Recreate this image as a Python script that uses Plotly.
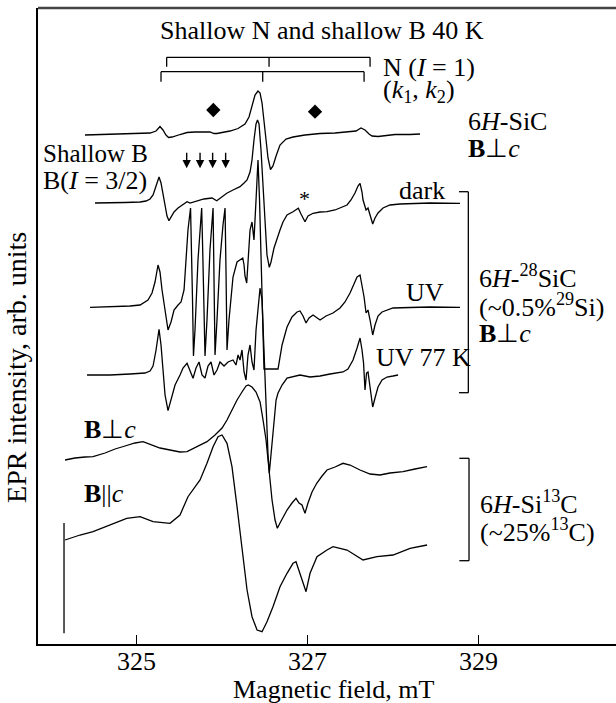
import plotly.graph_objects as go

# ---------------- data (field in mT, intensity in arb. units) ----------------
# 6H-SiC, B perp c (top spectrum)
sic_field = [324.404, 324.579, 324.813, 325.047, 325.164, 325.234, 325.280, 325.315, 325.350, 325.380,
             325.421, 325.514, 325.596, 325.689, 325.806, 325.864, 325.911, 325.946, 326.005, 326.098,
             326.192, 326.273, 326.320, 326.355, 326.390, 326.425, 326.449, 326.472, 326.495, 326.519,
             326.542, 326.571, 326.600, 326.636, 326.682, 326.752, 326.834, 326.974, 327.150, 327.325,
             327.500, 327.570, 327.628, 327.675, 327.722, 327.757, 327.827, 327.909, 328.026, 328.201, 328.318]
sic_int = [-1, -0.5, 0, 0.5, 1, 3, 7.5, 4, -1, -3.5,
           -3, -0.5, 1.5, 2, 2.5, 2, 0.5, 0.5, 1.5, 3,
           5.5, 10, 17, 28, 39, 43, 41, 31, 14, -6,
           -24, -35.5, -32, -22, -11, -5, -3, -1, 0.5, 1,
           2, 3, 6, 4, 0, -2, -2.5, -1.5, -0.5, -0.5, 0]

# 6H-28SiC dark
dark_field = [324.521, 324.696, 324.872, 325.047, 325.117, 325.164, 325.199, 325.234, 325.269, 325.292,
              325.315, 325.339, 325.362, 325.385, 325.409, 325.444, 325.491, 325.537, 325.596, 325.631,
              325.666, 325.713, 325.748, 325.794, 325.841, 325.888, 325.943, 325.981, 326.060, 326.133,
              326.215, 326.262, 326.297, 326.332, 326.355, 326.378, 326.402, 326.419, 326.437, 326.460,
              326.484, 326.507, 326.530, 326.557, 326.577, 326.612, 326.647, 326.682, 326.717, 326.764,
              326.834, 326.869, 326.896, 326.927, 326.974, 327.009, 327.068, 327.150, 327.231, 327.325,
              327.418, 327.465, 327.511, 327.558, 327.593, 327.617, 327.640, 327.652, 327.687, 327.710,
              327.734, 327.765, 327.792, 327.827, 327.885, 327.967, 328.084, 328.236, 328.435, 328.785]
dark_int = [-1, -1, -0.5, 0, 1, 3, 7, 16, 25, 19,
            7, -5, -14, -18.7, -15, -10, -6, -3, 0.3, -1,
            0, 1, 2, 3, 3.5, 4, 1.3, 4, 8.7, 12,
            15.3, 19, 22, 30, 42, 62, 78, 82, 78, 52,
            12, -23, -53, -65.3, -60, -46, -36, -28, -20, -13,
            -9.7, -8, -6.3, -12, -19.7, -14, -11.3, -10, -9.7, -8,
            -5, -3, 2, 9, 16, 18.7, 10, 2, -8, -6,
            -13, -22, -16, -11, -6, -3, -2, -1.3, -1, -1.3]

# 6H-28SiC UV
uv_field = [324.463, 324.696, 324.930, 325.047, 325.082, 325.140, 325.187, 325.222, 325.257, 325.280,
            325.304, 325.327, 325.350, 325.374, 325.409, 325.444, 325.491, 325.526, 325.561, 325.584,
            325.607, 325.637, 325.648, 325.660, 325.671, 325.689, 325.724, 325.748, 325.767, 325.779,
            325.794, 325.806, 325.829, 325.864, 325.900, 325.911, 325.923, 325.946, 325.981, 326.016,
            326.040, 326.051, 326.063, 326.086, 326.133, 326.180, 326.215, 326.247, 326.262, 326.273,
            326.293, 326.308, 326.332, 326.355, 326.378, 326.402, 326.425, 326.443, 326.460, 326.478,
            326.495, 326.659, 326.706, 326.764, 326.822, 326.881, 326.916, 326.951, 326.986, 327.021,
            327.068, 327.150, 327.220, 327.301, 327.383, 327.441, 327.500, 327.546, 327.582, 327.617,
            327.640, 327.664, 327.687, 327.710, 327.734, 327.765, 327.792, 327.827, 327.874, 328.002,
            328.201, 328.435, 328.785]
uv_int = [-0.3, 0, 1, 2, 4, 7, 14, 25, 42, 35,
          17, 2, -13, -23, -15, -3, 2, 5, 17, 47,
          77, 99, 67, 7, -49, -23, 47, 82, 99, 57,
          -13, -49, -13, 57, 99, 27, -48, -13, 47, 82,
          99, 37, -43, -13, 30, 45, 47, 49, 42, 31,
          24, 47, 77, 85, 67, 107, 147, 107, 47, -13,
          -62, -62, -38, -20, -10, -5, -4, -9, -16, -11,
          -8, -13, -9, -6, -1, 5, 14, 23, 30, 32,
          22, 10, -6, -3, -13, -28, -18, -9, -5, -1,
          -0.5, 0, -0.3]

# 6H-28SiC UV 77 K
uv77_field = [324.428, 324.696, 324.930, 325.105, 325.164, 325.199, 325.234, 325.269, 325.292, 325.315,
              325.339, 325.374, 325.409, 325.456, 325.514, 325.549, 325.596, 325.631, 325.666, 325.701,
              325.736, 325.771, 325.806, 325.841, 325.876, 325.911, 325.946, 325.981, 326.028, 326.075,
              326.133, 326.168, 326.192, 326.215, 326.238, 326.262, 326.285, 326.308, 326.332, 326.355,
              326.378, 326.402, 326.425, 326.449, 326.472, 326.495, 326.519, 326.542, 326.557, 326.577,
              326.600, 326.636, 326.659, 326.706, 326.764, 326.857, 326.916, 327.033, 327.150, 327.266,
              327.418, 327.476, 327.535, 327.582, 327.617, 327.640, 327.658, 327.675, 327.693, 327.710,
              327.734, 327.765, 327.792, 327.827, 327.874, 327.932, 328.002, 328.061]
uv77_int = [0, 0, 1, 2, 4, 9, 25, 45.7, 30, 0,
            -20, -35.7, -25, -10, 0, 7, 11.7, 5, -3.3, 7,
            13, 0, -3, 9, 13, 0, 5, 13, 9, 13,
            15, 10, 20, 15, 25, 3, -5, 20, 30, 13,
            5, 45, 70, 87, 75, 25, -35, -80, -98, -80,
            -55, -25, -18, -10, -3, -1, 0, -2, -1, 1,
            3, 6, 15, 27, 37, 25, 12, -15, 2, 3,
            -15, -32, -23, -12, -5, -2, -1, 0]

# 6H-Si13C, B perp c
c13p_field = [324.171, 324.287, 324.404, 324.498, 324.638, 324.755, 324.872, 324.988, 325.082, 325.164,
              325.280, 325.397, 325.514, 325.596, 325.689, 325.748, 325.829, 325.923, 326.005, 326.063,
              326.121, 326.180, 326.238, 326.285, 326.312, 326.355, 326.402, 326.449, 326.484, 326.519,
              326.554, 326.589, 326.624, 326.651, 326.682, 326.729, 326.764, 326.822, 326.869, 326.904,
              326.939, 326.974, 327.009, 327.056, 327.111, 327.173, 327.231, 327.325, 327.418, 327.500,
              327.617, 327.734, 327.850, 327.967, 328.119, 328.259, 328.400]
c13p_int = [-5, -3, -2, -1.7, 2, 6, 9, 12, 13.3, 11,
            7, 5, 3, 3.3, 7, 10, 13.3, 20, 27, 35,
            45, 55, 63, 69, 70, 68, 63, 53, 35, 15,
            -15, -45, -65, -73.3, -68, -60, -55, -48, -43.3, -48,
            -50, -58.3, -48, -37, -28.3, -21, -15, -12, -8.3, -10,
            -15, -19, -20, -18, -16.7, -14, -11.7]

# 6H-Si13C, B parallel c
c13c_field = [324.171, 324.346, 324.498, 324.696, 324.891, 325.047, 325.199, 325.397, 325.514, 325.607,
              325.748, 325.829, 325.900, 325.958, 326.005, 326.063, 326.121, 326.180, 326.238, 326.297,
              326.355, 326.414, 326.472, 326.530, 326.600, 326.682, 326.764, 326.834, 326.869, 326.916,
              326.986, 327.033, 327.114, 327.231, 327.301, 327.465, 327.652, 327.815, 328.002, 328.201,
              328.400]
c13c_int = [-10, -5, -1.7, 5, 11.7, 13.3, 8.3, 6.7, 15, 33.3,
            50, 66.7, 83.3, 93.3, 95, 86.7, 63.3, 23.3, -20, -60,
            -86.7, -100, -101.7, -91.7, -76.7, -56.7, -43.3, -33.3, -31.7, -43.3,
            -61.7, -43.3, -26.7, -20, -16.7, -20, -30, -26.7, -25, -18.3,
            -15]

# vertical offsets of the stacked spectra (arb. units)
spectra = [
    (sic_field, sic_int, 510),
    (dark_field, dark_int, 442),
    (uv_field, uv_int, 337),
    (uv77_field, uv77_int, 269),
    (c13p_field, c13p_int, 189),
    (c13c_field, c13c_int, 114),
]

# hyperfine stick diagrams for N (k1, k2)
n_k1_lines = [325.358, 326.554, 327.734]
n_k2_lines = [325.292, 326.480, 327.664]
diamond_fields = [325.903, 327.091]
diamond_levels = [534, 532.3]
boron_arrows = [325.592, 325.748, 325.895, 326.047]

tick_vals = [325, 327, 329]
tick_text = ["325", "327", "329"]

FONT = "Liberation Serif"
FS = 26

fig = go.Figure()
for fx, fy, off in spectra:
    fig.add_trace(go.Scatter(x=fx, y=[off + v for v in fy], mode="lines",
                             line=dict(color="black", width=1.3), hoverinfo="skip"))

fig.add_trace(go.Scatter(x=diamond_fields, y=diamond_levels, mode="markers",
                         marker=dict(symbol="diamond", size=11, color="black")))

shapes = []
def seg(x0, y0, x1, y1, w=1.3, color="black"):
    shapes.append(dict(type="line", xref="x", yref="y", x0=x0, y0=y0, x1=x1, y1=y1,
                       line=dict(color=color, width=w)))

# stick diagrams
seg(n_k1_lines[0], 586.7, n_k1_lines[-1], 586.7)
for v in n_k1_lines:
    seg(v, 586.7, v, 577.3)
seg(n_k2_lines[0], 572.3, n_k2_lines[-1], 572.3)
for v in n_k2_lines:
    seg(v, 572.3, v, 562.3)

# right brackets
seg(328.882, 452.3, 328.882, 251.3)
seg(328.773, 452.3, 328.882, 452.3)
seg(328.773, 251.3, 328.882, 251.3)
seg(328.890, 185.7, 328.890, 83.3)
seg(328.777, 185.7, 328.890, 185.7)
seg(328.777, 83.3, 328.890, 83.3)

# vertical marker at left
seg(324.159, 121, 324.159, 10.7)

# top frame line
shapes.append(dict(type="line", xref="paper", yref="paper", x0=0, x1=1, y0=1, y1=1,
                   line=dict(color="#444", width=2.5)))

ann = []
def txt(x, y, t, size=FS, xanchor="left", yref="y"):
    ann.append(dict(x=x, y=y, xref="x", yref=yref, text=t, showarrow=False,
                    xanchor=xanchor, yanchor="middle", font=dict(family=FONT, size=size, color="black")))

txt(325.257, 614, "Shallow N and shallow B 40 K")
txt(327.862, 577, "N (<i>I</i> = 1)")
txt(327.862, 553, "(<i>k</i><sub>1</sub>, <i>k</i><sub>2</sub>)")
txt(328.855, 523, "6<i>H</i>-SiC")
txt(328.855, 496, "<b>B</b>⊥<i>c</i>")
txt(323.890, 491, "Shallow B", size=25)
txt(323.890, 464, "B(<i>I</i> = 3/2)")
txt(328.049, 454, "dark")
txt(326.966, 446, "*", size=22, xanchor="center")
txt(328.131, 352, "UV")
txt(327.780, 287, "UV 77 K")
txt(328.984, 368, "6<i>H</i>-<sup>28</sup>SiC")
txt(328.984, 339, "(~0.5%<sup>29</sup>Si)")
txt(328.984, 311, "<b>B</b>⊥<i>c</i>")
txt(328.995, 142, "6<i>H</i>-Si<sup>13</sup>C")
txt(328.995, 114, "(~25%<sup>13</sup>C)")
txt(324.369, 215, "<b>B</b>⊥<i>c</i>")
txt(324.369, 151, "<b>B</b>||<i>c</i>")
txt(327.313, -0.0708, "Magnetic field, mT", xanchor="center", yref="paper")
for v, t in zip(tick_vals, tick_text):
    txt(v, -0.0283, t, xanchor="center", yref="paper")

for b in boron_arrows:
    ann.append(dict(x=b, y=475.7, xref="x", yref="y", ax=0, ay=-17, text="", showarrow=True,
                    arrowhead=2, arrowsize=1.2, arrowwidth=1.4, arrowcolor="black"))

ann.append(dict(x=-0.037, y=0.435, xref="paper", yref="paper", text="EPR intensity, arb. units",
                textangle=-90, showarrow=False, xanchor="center", yanchor="middle",
                font=dict(family=FONT, size=28, color="black")))

fig.update_layout(
    width=616, height=703,
    margin=dict(l=38, r=0, t=8, b=59),
    paper_bgcolor="white", plot_bgcolor="white",
    showlegend=False,
    shapes=shapes, annotations=ann,
    font=dict(family=FONT, size=FS, color="black"),
    xaxis=dict(range=[323.855, 330.607], tickvals=tick_vals, ticktext=tick_text,
               showticklabels=False,
               ticks="inside", ticklen=9, tickwidth=1.3, tickcolor="black",
               showline=True, linecolor="black", linewidth=1.5, showgrid=False, zeroline=False),
    yaxis=dict(range=[0, 636], showticklabels=False, ticks="", showline=True,
               linecolor="black", linewidth=1.5, showgrid=False, zeroline=False),
)

fig.write_html("out.html")
